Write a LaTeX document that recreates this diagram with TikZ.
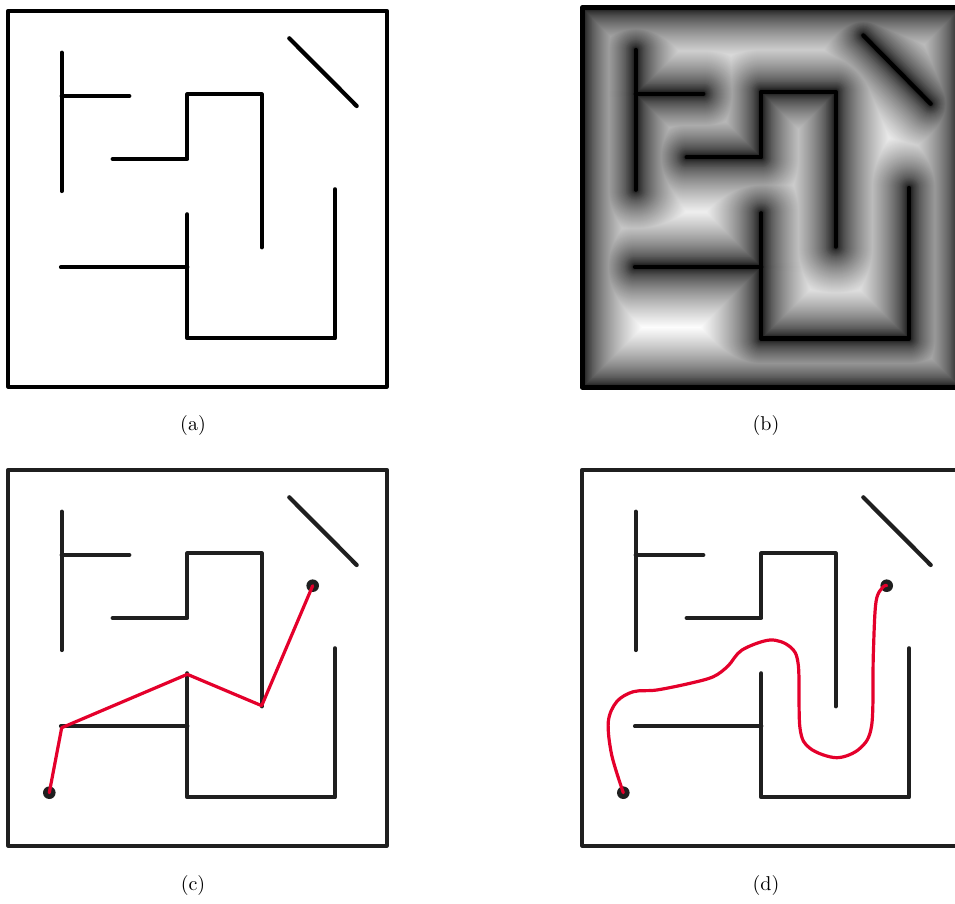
\documentclass[tikz,border=0pt]{standalone}
\usepackage{fontspec}
\usepackage{tikz}
\newfontfamily\capfont{lmroman10-regular}[Extension=.otf]

% Inner walls of the maze, in panel-local coordinates
\newcommand\innerwalls[1]{%
  \draw[#1] (61.7,52.7) -- (61.7,191);
  \draw[#1] (61.7,96) -- (129.3,96);
  \draw[#1] (112.7,159) -- (187.3,159) -- (187.3,94.3) -- (261.7,94.3) -- (261.7,247.3);
  \draw[#1] (289.3,38.3) -- (356.7,106);
  \draw[#1] (335,189.3) -- (335,338.3) -- (187.3,338.3) -- (187.3,214.3);
  \draw[#1] (61,267.3) -- (128,267.3);
  \draw[#1] (128,267.3) -- (187.3,267.3);
}
% Outer boundary of the maze
\newcommand\mazeborder[1]{\draw[#1] (8.3,10.7) rectangle (386.7,386.7);}

\begin{document}
\begin{tikzpicture}[x=1pt,y=-1pt,
  wall/.style={line width=4.2pt, line cap=round, line join=round},
  softwall/.style={wall, draw=black!88},
  route/.style={line width=3.2pt, draw={rgb,255:red,228;green,0;blue,43}, line cap=round, line join=round},
  endpoint/.style={fill=black!88},
  caption/.style={inner sep=0pt, font=\capfont\fontsize{20}{24}\selectfont}]
\useasboundingbox (0,0) rectangle (955,904);

% (a) the maze
\begin{scope}
  \mazeborder{wall}
  \innerwalls{wall}
\end{scope}
\node[caption] (capa) at (193,425) {(a)};

% (b) distance field: nested strokes, widest and lightest first
\begin{scope}[shift={(574,-3.3)}, yscale=1.0106]
  \begin{scope}
    \clip (8.3,10.7) rectangle (386.7,386.7);
    \fill[white] (8.3,10.7) rectangle (386.7,386.7);
    \foreach \d [evaluate=\d as \pct using {100*(\d/62)^0.6},
                 evaluate=\d as \lw using {2*\d}] in {62,61,...,10} {
      \mazeborder{line width=\lw pt, draw=white!\pct!black, line join=round}
      \innerwalls{line width=\lw pt, draw=white!\pct!black, line cap=round, line join=round}
    }
    \foreach \d [evaluate=\d as \pct using {100*(\d/62)^0.6},
                 evaluate=\d as \lw using {2*\d}] in {9.5,9,...,0.5} {
      \mazeborder{line width=\lw pt, draw=white!\pct!black, line join=round}
      \innerwalls{line width=\lw pt, draw=white!\pct!black, line cap=round, line join=round}
    }
  \end{scope}
  \innerwalls{wall, draw=black}
  \mazeborder{wall, line width=5pt, draw=black}
\end{scope}
\node[caption] (capb) at (766,425) {(b)};

% (c) piecewise-linear route through wall corners
\begin{scope}[shift={(0,459)}]
  \mazeborder{softwall}
  \innerwalls{softwall}
  \coordinate (cstart) at (49.3,333.7);
  \coordinate (cgoal) at (312.7,126.7);
  \coordinate (c1) at (61.7,268.7);
  \coordinate (c2) at (187.3,215.3);
  \coordinate (c3) at (261.7,246.7);
  \fill[endpoint] (cstart) circle (6.3);
  \fill[endpoint] (cgoal) circle (6.3);
  \draw[route] (cstart) -- (c1) -- (c2) -- (c3) -- (cgoal);
\end{scope}
\node[caption] (capc) at (193,885) {(c)};

% (d) smooth route following the corridors
\begin{scope}[shift={(574,459)}]
  \mazeborder{softwall}
  \innerwalls{softwall}
  \coordinate (dstart) at (49.3,333.7);
  \coordinate (dgoal) at (312.7,126.7);
  \fill[endpoint] (dstart) circle (6.3);
  \fill[endpoint] (dgoal) circle (6.3);
  \draw[route] plot[smooth, tension=0.55] coordinates {
    (dstart) (37.7,296) (34.3,262.7) (42.7,242.7) (59.3,232.7) (82.7,231)
    (116,224.3) (139.3,217.7) (154,207) (168,191) (196,181)
    (216,187.7) (224.3,206) (226,269.3) (236,289.3) (262.7,298.7)
    (286,289.3) (297.7,266) (299.3,196) (302,142.7) (309.3,127.7) (dgoal)};
\end{scope}
\node[caption] (capd) at (766,885) {(d)};
\end{tikzpicture}
\end{document}
